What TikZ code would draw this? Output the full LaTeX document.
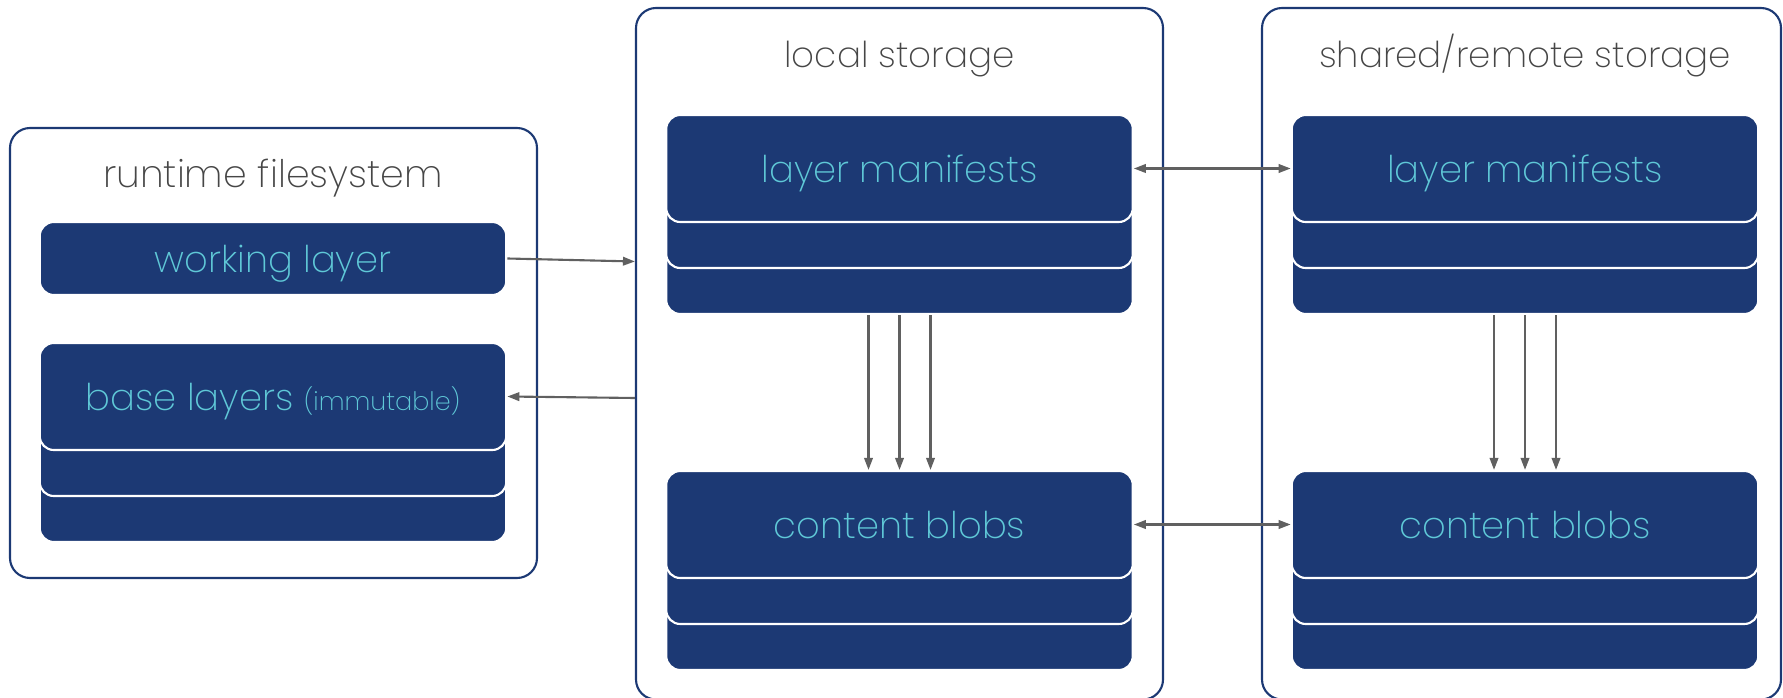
\documentclass[tikz,border=0pt]{standalone}
\usepackage{fontspec}
\setmainfont{Poppins ExtraLight}
\usetikzlibrary{arrows.meta, positioning}

\definecolor{navy}{RGB}{28,57,116}
\definecolor{aqua}{RGB}{95,200,215}
\definecolor{titlegray}{RGB}{70,70,70}
\definecolor{linkgray}{RGB}{96,96,96}

\tikzset{
    panel/.style={draw=navy, line width=1.2pt, rounded corners=0.4cm, minimum width=10.54cm, minimum height=13.83cm},
    layerbox/.style={fill=navy, draw=white, line width=1.2pt, rounded corners=0.28cm, minimum width=9.33cm, minimum height=2.14cm, text=aqua, text height=18pt, text depth=1.6pt, font=\fontsize{21}{25}\selectfont},
    paneltitle/.style={text=titlegray, anchor=base, font=\fontsize{20.3}{24}\selectfont},
    link/.style={draw=linkgray, line width=1.2pt},
    >={Triangle[length=0.24cm, width=0.17cm]}
}

\begin{document}
\begin{tikzpicture}
    \useasboundingbox (0,0) rectangle (35.66,13.94);

    \node[panel, minimum height=9.0cm] (rt) at (5.47,6.88) {};
    \node[panel] (local) at (17.99,6.865) {};
    \node[panel, minimum width=10.38cm] (remote) at (30.43,6.865) {};

    \node[paneltitle, font=\fontsize{21.6}{25}\selectfont] (rt-title) at (5.46,10.18) {runtime filesystem};
    \node[paneltitle] (local-title) at (17.99,12.58) {local storage};
    \node[paneltitle] (remote-title) at (30.5,12.58) {shared/remote storage};

    \foreach \nm/\x/\y in {base/5.46/6.01, lm/17.99/10.57, lc/17.99/3.45, rm/30.5/10.57, rc/30.5/3.45}
        \foreach \d in {2,1}
            \node[layerbox] (\nm-\d) at (\x,{\y-0.92*\d}) {};

    \node[layerbox, minimum height=1.46cm] (work) at (5.46,8.77) {working layer};
    \node[layerbox] (base) at (5.46,6.01) {base layers {\fontsize{14.5}{17}\selectfont(immutable)}};
    \node[layerbox] (lm) at (17.99,10.57) {layer manifests};
    \node[layerbox] (lc) at (17.99,3.45) {content blobs};
    \node[layerbox] (rm) at (30.5,10.57) {layer manifests};
    \node[layerbox] (rc) at (30.5,3.45) {content blobs};

    \draw[link, ->] (work.east) -- ([yshift=-0.06cm]work.east -| local.west);
    \draw[link, ->] ([yshift=-0.03cm]base.east -| local.west) -- (base.east);
    \draw[link, <->] (lm.east) -- (rm.west);
    \draw[link, <->] (lc.east) -- (rc.west);
    \foreach \dx in {-0.62,0,0.62} {
        \draw[link, ->] ([xshift=\dx cm]lm-2.south) -- ([xshift=\dx cm]lc.north);
        \draw[link, ->] ([xshift=\dx cm]rm-2.south) -- ([xshift=\dx cm]rc.north);
    }
\end{tikzpicture}
\end{document}
